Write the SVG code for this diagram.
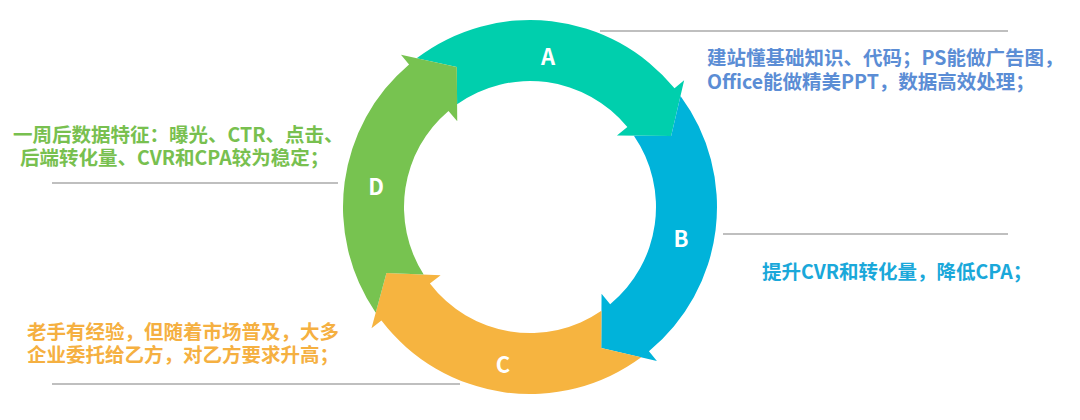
<svg xmlns="http://www.w3.org/2000/svg" width="1080" height="420" viewBox="0 0 1080 420">
<style>
.lbl{font-family:"Noto Sans CJK SC","Liberation Sans",sans-serif;font-weight:bold;font-size:22px;fill:#ffffff;text-anchor:middle;dominant-baseline:central}
.txt{font-family:"Noto Sans CJK SC","Liberation Sans",sans-serif;font-weight:bold;font-size:19.5px}
.rule{stroke:#aaaaaa;stroke-width:1.5;fill:none}
</style>
<rect width="1080" height="420" fill="#ffffff"/>
<g id="connectors">
<line class="rule" x1="600" y1="31" x2="1008" y2="31"/>
<line class="rule" x1="723" y1="234" x2="1008" y2="234"/>
<line class="rule" x1="52" y1="183" x2="338" y2="183"/>
<line class="rule" x1="52" y1="384" x2="460" y2="384"/>
</g>
<g id="nodeA">
<path fill="#00CFAD" d="M416.65,58.27 A187,187 0 0 1 674.50,88.31 L684.16,80.37 L671.15,136.01 L616.93,135.59 L627.36,127.02 A126,126 0 0 0 457.10,104.23 L456.80,66.98 Z"/>
<text class="lbl" x="548" y="55">A</text>
<text class="txt" fill="#5B8DD5"><tspan x="707" y="65">建站懂基础知识、代码；PS能做广告图，</tspan><tspan x="707" y="89">Office能做精美PPT，数据高效处理；</tspan></text>
</g>
<g id="nodeB">
<path fill="#00B3DA" d="M680.50,96.00 A187,187 0 0 1 648.95,351.29 L656.90,360.94 L601.24,348.03 L601.56,293.81 L610.15,304.22 A126,126 0 0 0 633.90,135.72 L671.15,136.01 Z"/>
<text class="lbl" x="681" y="237">B</text>
<text class="txt" fill="#1AA8DA" x="762" y="279">提升CVR和转化量，降低CPA；</text>
</g>
<g id="nodeC">
<path fill="#F6B440" d="M641.26,357.30 A187,187 0 0 1 381.44,320.58 L371.51,328.17 L386.45,273.02 L440.63,275.33 L429.90,283.53 A126,126 0 0 0 601.46,310.78 L601.24,348.03 Z"/>
<text class="lbl" x="503" y="363">C</text>
<text class="txt" fill="#F5B041"><tspan x="27" y="339">老手有经验，但随着市场普及，大多</tspan><tspan x="27" y="362">企业委托给乙方，对乙方要求升高；</tspan></text>
</g>
<g id="nodeD">
<path fill="#77C350" d="M375.72,312.68 A187,187 0 0 1 409.05,64.38 L400.97,54.85 L456.80,66.98 L457.24,121.20 L448.50,110.90 A126,126 0 0 0 423.67,274.61 L386.45,273.02 Z"/>
<text class="lbl" x="376" y="185">D</text>
<text class="txt" fill="#78C04F"><tspan x="13" y="142">一周后数据特征：曝光、CTR、点击、</tspan><tspan x="20" y="165">后端转化量、CVR和CPA较为稳定；</tspan></text>
</g>
</svg>
